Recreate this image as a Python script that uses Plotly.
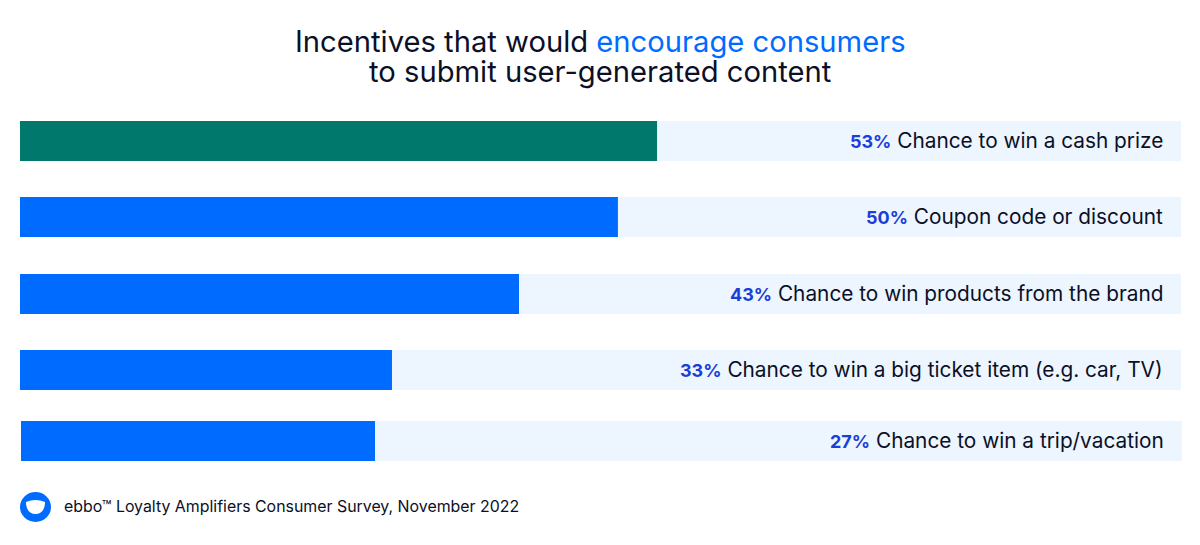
import plotly.graph_objects as go

categories = ["Chance to win a cash prize", "Coupon code or discount", "Chance to win products from the brand",
              "Chance to win a big ticket item (e.g. car, TV)", "Chance to win a trip/vacation"]
pct_labels = ["53%", "50%", "43%", "33%", "27%"]
# drawn bar lengths, in % of the track
bar_lengths = [54.87, 51.5, 42.98, 32.04, 30.49]
track = [100, 100, 100, 100, 100]
row_starts = [0, 0, 0, 0, 0.086]
colors = ["#00786C", "#006BFF", "#006BFF", "#006BFF", "#006BFF"]
row_centres = [141, 217, 294, 370, 441]

FONT = "Inter"
INK = "#0B1026"
W, H, L, R = 1200, 545, 20, 18
PW = W - L - R


def X(p):
    return (p - L) / PW


def Y(p):
    return 1 - p / H


fig = go.Figure()
fig.add_bar(x=track, y=row_centres, base=row_starts, orientation="h", width=40,
            marker=dict(color="#EDF5FF", line_width=0), hoverinfo="skip")
fig.add_bar(x=bar_lengths, y=row_centres, base=row_starts, orientation="h", width=40,
            marker=dict(color=colors, line_width=0), hoverinfo="skip")

for c, p, y, s in zip(categories, pct_labels, row_centres, row_starts):
    fig.add_annotation(x=100 + s, y=y, xref="x", yref="y", xshift=-16, yshift=1, xanchor="right", yanchor="middle",
                       showarrow=False,
                       text=f'<b><span style="color:#1A3FD8;font-size:18px">{p}</span></b> {c}',
                       font=dict(family=FONT, size=20.8, color=INK))

fig.add_annotation(x=X(600), y=Y(41.6), xref="paper", yref="paper", showarrow=False, xanchor="center", yanchor="middle",
                   text='Incentives that would <span style="color:#006BFF">encourage consumers</span>',
                   font=dict(family=FONT, size=29.2, color=INK))
fig.add_annotation(x=X(600), y=Y(71.6), xref="paper", yref="paper", showarrow=False, xanchor="center", yanchor="middle",
                   text="to submit user-generated content", font=dict(family=FONT, size=29.2, color=INK))
fig.add_annotation(x=X(64), y=Y(506), xref="paper", yref="paper", showarrow=False, xanchor="left", yanchor="middle",
                   xshift=-2,
                   text='ebbo™ Loyalty Amplifiers Consumer Survey, November 2022',
                   font=dict(family=FONT, size=15.9, color=INK))

# logo
fig.add_shape(type="circle", xref="paper", yref="paper", x0=X(20), x1=X(51), y0=Y(522), y1=Y(492),
              fillcolor="#006BFF", line_width=0)
fig.add_shape(type="path", xref="paper", yref="paper",
              path=f"M {X(26)} {Y(502)} Q {X(35.5)} {Y(498)} {X(45)} {Y(502)} "
                   f"C {X(45)} {Y(510)} {X(41)} {Y(514)} {X(35.5)} {Y(514)} "
                   f"C {X(30)} {Y(514)} {X(26)} {Y(510)} {X(26)} {Y(502)} Z",
              fillcolor="white", line_width=0)

fig.update_layout(width=W, height=H, barmode="overlay", showlegend=False, paper_bgcolor="white", plot_bgcolor="white",
                  margin=dict(l=L, r=R, t=0, b=0),
                  xaxis=dict(range=[0, 100.086], visible=False, fixedrange=True),
                  yaxis=dict(range=[H, 0], visible=False, fixedrange=True))
fig.write_html("out.html", config={"displayModeBar": False},
               post_script="document.body.style.margin='0';")
